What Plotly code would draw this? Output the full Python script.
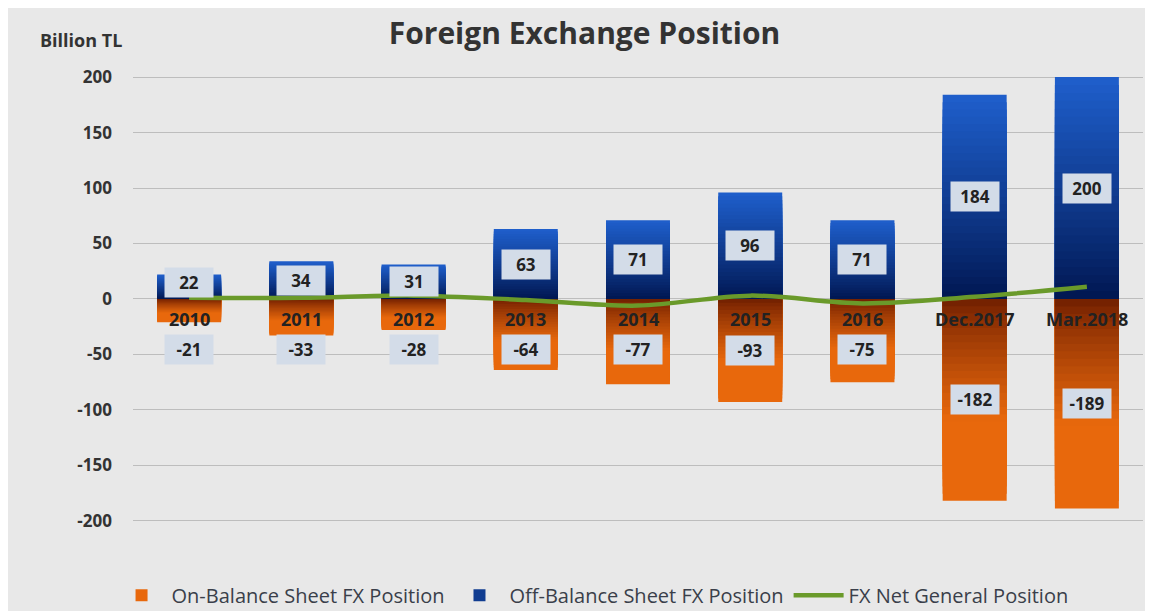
import plotly.graph_objects as go

categories = ["2010", "2011", "2012", "2013", "2014", "2015", "2016", "Dec.2017", "Mar.2018"]
on_balance = [-21, -33, -28, -64, -77, -93, -75, -182, -189]
off_balance = [22, 34, 31, 63, 71, 96, 71, 184, 200]
net_position = [1, 1, 3, -1, -6, 3, -4, 2, 11]
y_ticks = [200, 150, 100, 50, 0, -50, -100, -150, -200]

BG = "#e8e8e8"
N_LAYERS = 28
FONT = "Open Sans, Lato, sans-serif"


def lerp(c1, c2, t):
    t = max(0.0, min(1.0, t))
    a = [int(c1[i:i + 2], 16) for i in (1, 3, 5)]
    b = [int(c2[i:i + 2], 16) for i in (1, 3, 5)]
    return "rgb(%d,%d,%d)" % tuple(round(a[j] + (b[j] - a[j]) * t) for j in range(3))


fig = go.Figure()

# gradient bars: overlaid layers, each a fraction of the real value
for k in range(N_LAYERS):
    f = (N_LAYERS - k) / N_LAYERS
    mid = f - 0.5 / N_LAYERS
    fig.add_trace(go.Bar(
        x=categories, y=[v * f for v in on_balance],
        marker=dict(color=lerp("#6e1d00", "#e8680c", (mid / 0.6) ** 0.8), line=dict(width=0)),
        width=0.57, name="On-Balance Sheet FX Position",
        showlegend=(k == N_LAYERS // 3), legendrank=1, hoverinfo="skip",
    ))
    fig.add_trace(go.Bar(
        x=categories, y=[v * f for v in off_balance],
        marker=dict(color=lerp("#001650", "#1f5fcc", mid ** 0.9), line=dict(width=0)),
        width=0.57, name="Off-Balance Sheet FX Position",
        showlegend=(k == N_LAYERS // 2), legendrank=2, hoverinfo="skip",
    ))

fig.add_trace(go.Scatter(
    x=categories, y=net_position, mode="lines",
    line=dict(color="#6a9a2a", width=4.5, shape="spline"),
    name="FX Net General Position", legendrank=3,
))

# value boxes and category labels (x given as index on the category axis)
for i, v in enumerate(off_balance):
    fig.add_annotation(x=i, y=max(v / 2, 15), text="<b>%d</b>" % v, showarrow=False,
                       bgcolor="#d3dce8", borderpad=3, width=42,
                       font=dict(size=17, color="#222222"))
for i, v in enumerate(on_balance):
    fig.add_annotation(x=i, y=min(v / 2, -46), text="<b>%d</b>" % v, showarrow=False,
                       bgcolor="#d3dce8", borderpad=3, width=42,
                       font=dict(size=17, color="#222222"))
for i, c in enumerate(categories):
    fig.add_annotation(x=i, y=0, text="<b>%s</b>" % c, showarrow=False,
                       yanchor="top", yshift=-6,
                       font=dict(size=18, color="#222222"))

fig.add_annotation(text="<b>Billion TL</b>", xref="paper", yref="paper",
                   x=-0.094, y=1.055, xanchor="left", yanchor="middle",
                   showarrow=False, font=dict(size=18, color="#333333"))

fig.update_layout(
    width=1153, height=611,
    title=dict(text="<b>Foreign Exchange Position</b>", x=0.5, xanchor="center",
               y=0.959, yanchor="middle", font=dict(size=30, color="#333333")),
    barmode="overlay",
    paper_bgcolor=BG, plot_bgcolor=BG,
    font=dict(family=FONT, color="#333333"),
    margin=dict(l=125, r=18, t=58, b=76),
    legend=dict(orientation="h", x=0.455, xanchor="center", yref="container",
                y=0.039, yanchor="middle",
                font=dict(size=20, color="#3a3f4a"), bgcolor="rgba(0,0,0,0)",
                traceorder="normal", itemwidth=50),
    showlegend=True,
)
fig.update_xaxes(type="category", range=[-0.5, len(categories) - 0.5],
                 showticklabels=False, showgrid=False, zeroline=False, showline=False)
fig.update_yaxes(range=[-220, 210], tickvals=y_ticks,
                 ticktext=["<b>%d</b>" % t for t in y_ticks],
                 tickfont=dict(size=17, color="#333333"),
                 showgrid=True, gridcolor="#bdbdbd", gridwidth=1,
                 zeroline=True, zerolinecolor="#bdbdbd", zerolinewidth=1,
                 ticks="", ticklabelstandoff=20)

fig.write_html("out.html")
